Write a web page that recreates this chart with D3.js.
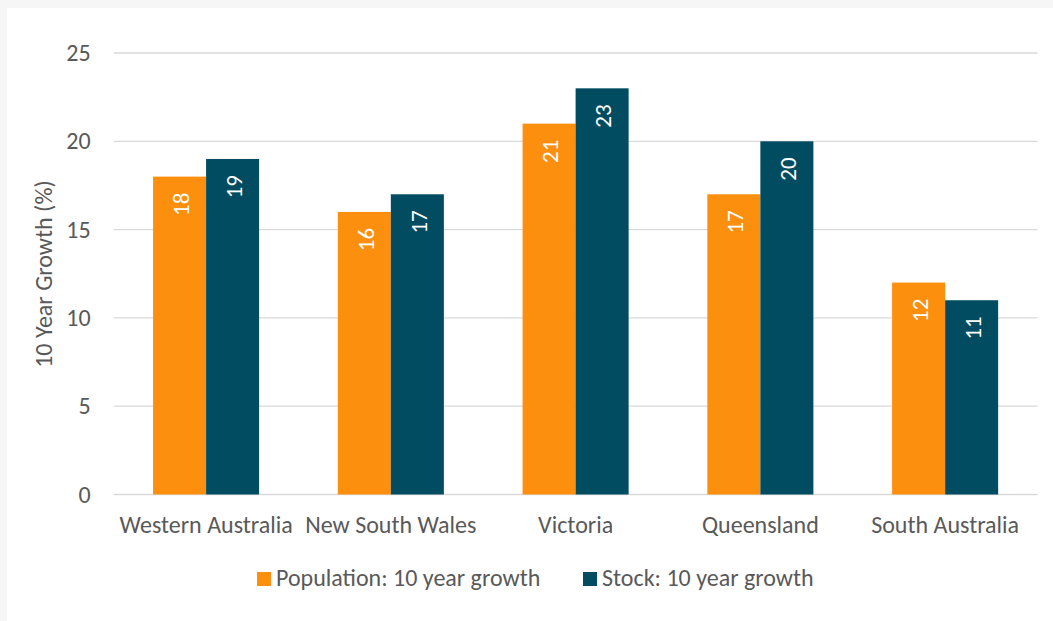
<!DOCTYPE html>
<html>
<head>
<meta charset="utf-8">
<script src="https://cdn.jsdelivr.net/npm/d3@7"></script>
<style>
  html, body { margin: 0; padding: 0; background: #f6f6f6; }
  svg { display: block; }
  text { font-family: Carlito, Calibri, Lato, sans-serif; fill: #595959; }
</style>
</head>
<body>
<svg id="chart" width="1053" height="621"></svg>
<script>
// Regional growth over ten years, in percent
const categories = ["Western Australia", "New South Wales", "Victoria", "Queensland", "South Australia"];
const seriesNames = ["Population: 10 year growth", "Stock: 10 year growth"];
const populationGrowth = [18, 16, 21, 17, 12];
const stockGrowth = [19, 17, 23, 20, 11];
const yTicks = [0, 5, 10, 15, 20, 25];
const yTitle = "10 Year Growth (%)";

const colors = ["#fd8f0f", "#024c62"];
const series = [populationGrowth, stockGrowth];

const svg = d3.select("#chart");
const W = 1053, H = 621;

// card background
svg.append("rect").attr("x", 7).attr("y", 8).attr("width", W - 7).attr("height", H - 8).attr("fill", "#ffffff");

const plot = { left: 113.7, right: 1037.5, top: 53, bottom: 494.5 };

const x0 = d3.scaleBand().domain(categories).range([plot.left, plot.right]).paddingInner(0.426).paddingOuter(0.213);
const x1 = d3.scaleBand().domain([0, 1]).range([0, x0.bandwidth()]);
const y = d3.scaleLinear().domain([0, 25]).range([plot.bottom, plot.top]);

// gridlines
svg.append("g").selectAll("line").data(yTicks).join("line")
  .attr("x1", plot.left).attr("x2", plot.right)
  .attr("y1", d => y(d)).attr("y2", d => y(d))
  .attr("stroke", "#d9d9d9").attr("stroke-width", 1.3);

// y tick labels
const yAxis = d3.axisLeft(y).tickValues(yTicks).tickSize(0).tickPadding(0);
const yg = svg.append("g").attr("transform", `translate(${plot.left - 23},0)`).call(yAxis);
yg.select(".domain").remove();
yg.selectAll("text").attr("font-size", 24).attr("fill", "#595959")
  .style("font-family", "Carlito, Calibri, Lato, sans-serif");

// y title
svg.append("text")
  .attr("transform", `translate(52,274) rotate(-90)`)
  .attr("text-anchor", "middle")
  .attr("font-size", 24)
  .text(yTitle);

// x category labels
const xAxis = d3.axisBottom(x0).tickSize(0).tickPadding(0);
const xg = svg.append("g").attr("transform", `translate(0,${plot.bottom + 38})`).call(xAxis);
xg.select(".domain").remove();
xg.selectAll("text").attr("font-size", 24).attr("fill", "#595959").attr("dy", 0)
  .style("font-family", "Carlito, Calibri, Lato, sans-serif");

// bars
const groups = svg.append("g").selectAll("g").data(categories).join("g")
  .attr("transform", d => `translate(${x0(d)},0)`);

groups.selectAll("rect").data((c, i) => series.map((s, k) => ({ k, v: s[i] }))).join("rect")
  .attr("x", d => x1(d.k)).attr("width", x1.bandwidth())
  .attr("y", d => y(d.v)).attr("height", d => y(0) - y(d.v))
  .attr("fill", d => colors[d.k]);

// value labels, rotated inside bar tops
groups.selectAll("text.val").data((c, i) => series.map((s, k) => ({ k, v: s[i] }))).join("text")
  .attr("class", "val")
  .attr("transform", d => `translate(${x1(d.k) + x1.bandwidth() / 2 + 1},${y(d.v) + 16}) rotate(-90)`)
  .attr("text-anchor", "end")
  .attr("dy", "0.36em")
  .attr("font-size", 23)
  .style("fill", "#ffffff")
  .text(d => d.v);

// legend
const legend = svg.append("g");
const legendX = [257, 583];
seriesNames.forEach((name, k) => {
  const g = legend.append("g").attr("transform", `translate(${legendX[k]},572)`);
  g.append("rect").attr("width", 14).attr("height", 14).attr("fill", colors[k]);
  g.append("text").attr("x", 19).attr("y", 14).attr("font-size", 24).text(name);
});
</script>
</body>
</html>
